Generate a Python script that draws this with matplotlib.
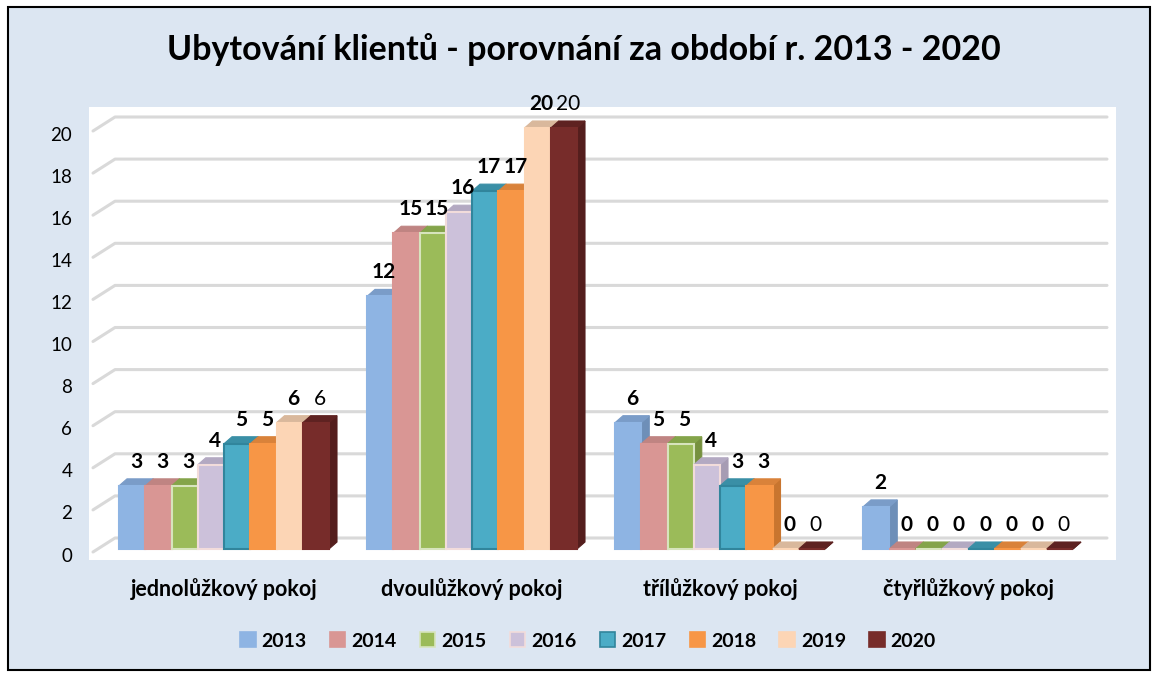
# -*- coding: utf-8 -*-
"""
Ubytování klientů - sloupcový graf s jednoduchým 3D vzhledem
"""
import numpy as np
import matplotlib
matplotlib.use("Agg")
import matplotlib.pyplot as plt
from matplotlib.patches import Polygon, Rectangle, Patch
import matplotlib.transforms as mtransforms

plt.rcParams['font.family'] = ['Lato', 'DejaVu Sans']

# Data
kategorie = ["jednolůžkový pokoj", "dvoulůžkový pokoj", "třílůžkový pokoj", "čtyřlůžkový pokoj"]
roky = ["2013", "2014", "2015", "2016", "2017", "2018", "2019", "2020"]
hodnoty = {
    "2013": [3, 12, 6, 2],
    "2014": [3, 15, 5, 0],
    "2015": [3, 15, 5, 0],
    "2016": [4, 16, 4, 0],
    "2017": [5, 17, 3, 0],
    "2018": [5, 17, 3, 0],
    "2019": [6, 20, 0, 0],
    "2020": [6, 20, 0, 0],
}
y_ticks = [0, 2, 4, 6, 8, 10, 12, 14, 16, 18, 20]

# barvy: predni stena, hrana, bocni stena, horni stena
barvy = {
    "2013": ("#8EB4E3", "#8EB4E3", "#6E8FB8", "#7A9CC8"),
    "2014": ("#D99694", "#D99694", "#B07674", "#BF8482"),
    "2015": ("#9BBB59", "#D7E4BD", "#76913F", "#84A44A"),
    "2016": ("#CCC1DA", "#F2DCDB", "#A69CB3", "#B3A9C2"),
    "2017": ("#4BACC6", "#31859C", "#31859C", "#3A8FA6"),
    "2018": ("#F79646", "#F79646", "#C8752F", "#D9823A"),
    "2019": ("#FCD5B5", "#FCD5B5", "#CFAE92", "#D9B89C"),
    "2020": ("#772C2A", "#772C2A", "#541E1D", "#5E2221"),
}

W, H, DPI = 1159, 677, 100
fig = plt.figure(figsize=(W / DPI, H / DPI), dpi=DPI, facecolor="white")

# pozadi grafu s cernym ramem
ramecek = Rectangle((8 / W, 7 / H), 1142 / W, 663 / H, transform=fig.transFigure,
                    facecolor="#DCE6F2", edgecolor="black", linewidth=1.5, zorder=-10)
fig.add_artist(ramecek)

ax = fig.add_axes([89 / W, 1 - 560 / H, (1116 - 89) / W, (560 - 107) / H])
ax.set_zorder(1)
ax.set_facecolor("white")
for s in ax.spines.values():
    s.set_visible(False)

px_x = 248.0   # pixelu na jednu kategorii
px_y = 21.05   # pixelu na jednotku
ax.set_xlim(-(224 - 89) / px_x, 3 + (1116 - 968) / px_x)
ax.set_ylim(-(560 - 549) / px_y, 20 + (128 - 107) / px_y)

# zadni mrizka se sikmym nabehem
gx0 = (93 - 224) / px_x
gx1 = (115 - 224) / px_x
gx2 = 3 + (1107 - 968) / px_x
g_up = 11 / px_y
g_dn = 3 / px_y
for v in y_ticks:
    ax.plot([gx0, gx1, gx2], [v - g_dn, v + g_up, v + g_up], color="#D9D9D9", lw=2.2,
            solid_capstyle="round", zorder=1)

# sloupce
sirka = 26.25 / px_x
dx = 8 / px_x
dy = 7 / px_y
x = np.arange(len(kategorie))
n = len(roky)
for i, rok in enumerate(roky):
    fc, ec, side, top = barvy[rok]
    x0 = x - n * sirka / 2 + i * sirka
    vals = hodnoty[rok]
    z = 2 + i * 3
    for xi, h in zip(x0, vals):
        ax.add_patch(Polygon([[xi + sirka, 0], [xi + sirka + dx, dy], [xi + sirka + dx, h + dy], [xi + sirka, h]],
                             closed=True, facecolor=side, edgecolor=side, lw=0.8, zorder=z))
        ax.add_patch(Polygon([[xi, h], [xi + sirka, h], [xi + sirka + dx, h + dy], [xi + dx, h + dy]],
                             closed=True, facecolor=top, edgecolor=top, lw=0.8, zorder=z + 1))
    ax.bar(x0, vals, width=sirka, align="edge", color=fc, edgecolor=ec, linewidth=1.5, zorder=z + 2)
    vaha = "normal" if rok == "2020" else "bold"
    for xi, h in zip(x0, vals):
        ax.annotate(str(h), (xi + sirka / 2 + dx / 2, h + dy), xytext=(0, 5), textcoords="offset points",
                    ha="center", va="bottom", fontsize=15, fontweight=vaha, color="black", zorder=40)

# osy
ax.set_yticks(y_ticks)
ax.set_yticklabels([str(v) for v in y_ticks], fontsize=13.5)
ax.tick_params(axis="y", length=0, pad=12)
posun = mtransforms.ScaledTranslation(0, -4 / 72, fig.dpi_scale_trans)
for lbl in ax.get_yticklabels():
    lbl.set_transform(lbl.get_transform() + posun)
ax.set_xticks(x)
ax.set_xticklabels(kategorie, fontsize=15.5, fontweight="bold")
ax.tick_params(axis="x", length=0, pad=13)

fig.text(584 / W, 1 - 50 / H, "Ubytování klientů - porovnání za období r. 2013 - 2020",
         ha="center", va="center", fontsize=24.5, fontweight="bold")

handles = [Patch(facecolor=barvy[r][0], edgecolor=barvy[r][1], linewidth=1.2) for r in roky]
fig.legend(handles, roky, loc="center", bbox_to_anchor=(588 / W, 1 - 641 / H), ncol=8, frameon=False,
           prop={"weight": "bold", "size": 14}, handlelength=0.8, handleheight=0.8, handletextpad=0.3,
           columnspacing=1.2)

fig.savefig("out.png", dpi=DPI, facecolor="white")
